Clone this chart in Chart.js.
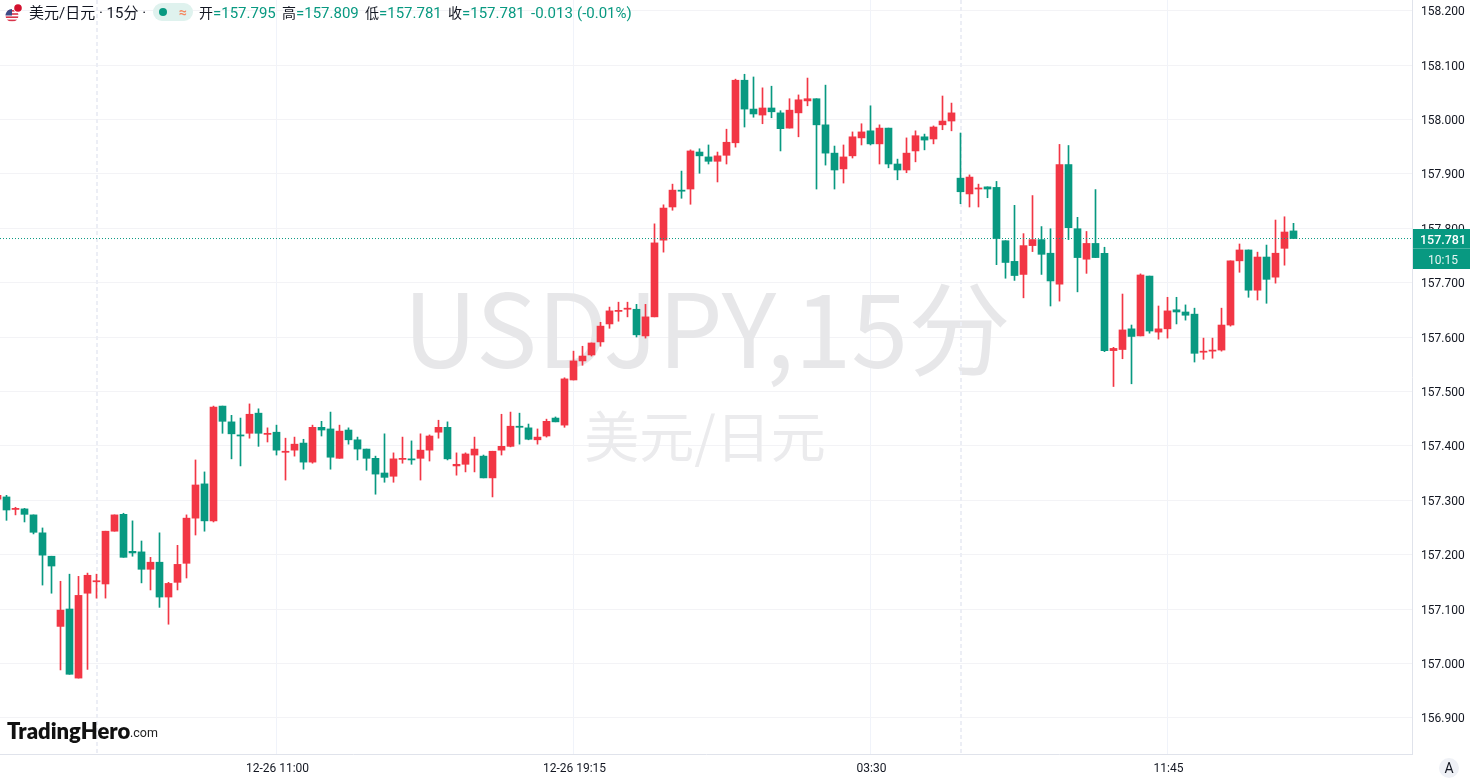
<!DOCTYPE html>
<html><head><meta charset="utf-8">
<style>html,body{margin:0;padding:0;background:#fff;overflow:hidden}canvas{display:block}</style>
<script src="https://cdn.jsdelivr.net/npm/chart.js@4"></script>
</head><body><canvas id="c" width="1470" height="782"></canvas>
<script>
const opens=[157.302,157.306,157.283,157.284,157.273,157.240,157.197,157.068,157.100,156.973,157.129,157.150,157.146,157.243,157.274,157.206,157.205,157.173,157.186,157.122,157.149,157.184,157.267,157.330,157.262,157.473,157.444,157.420,157.423,157.460,157.421,157.425,157.388,157.392,157.405,157.370,157.434,157.431,157.377,157.429,157.411,157.394,157.377,157.350,157.344,157.375,157.376,157.377,157.392,157.425,157.434,157.363,157.366,157.383,157.381,157.341,157.392,157.399,157.436,157.433,157.411,157.418,157.451,157.438,157.521,157.556,157.567,157.591,157.624,157.647,157.651,157.651,157.602,157.637,157.778,157.839,157.870,157.872,157.940,157.931,157.923,157.934,157.957,158.072,158.019,158.008,158.021,158.012,157.984,158.012,158.034,158.038,157.990,157.938,157.909,157.933,157.966,157.979,157.955,157.984,157.918,157.907,157.942,157.968,157.964,157.990,157.997,157.892,157.863,157.872,157.876,157.875,157.777,157.739,157.715,157.768,157.779,157.754,157.697,157.917,157.799,157.743,157.772,157.754,157.575,157.577,157.615,157.602,157.712,157.609,157.615,157.650,157.646,157.642,157.572,157.574,157.576,157.622,157.740,157.760,157.686,157.747,157.710,157.763,157.795];
const highs=[157.315,157.309,157.287,157.285,157.273,157.249,157.197,157.151,157.164,157.160,157.166,157.164,157.243,157.273,157.276,157.262,157.225,157.195,157.240,157.149,157.217,157.273,157.374,157.352,157.473,157.473,157.456,157.451,157.477,157.468,157.433,157.438,157.414,157.416,157.412,157.438,157.445,157.462,157.438,157.433,157.416,157.394,157.381,157.422,157.387,157.416,157.409,157.422,157.420,157.447,157.444,157.387,157.387,157.416,157.383,157.390,157.458,157.462,157.460,157.440,157.431,157.449,157.453,157.525,157.574,157.583,157.589,157.627,157.655,157.664,157.664,157.660,157.660,157.808,157.843,157.881,157.905,157.944,157.946,157.953,157.940,157.982,158.074,158.083,158.078,158.058,158.061,158.016,158.038,158.045,158.076,158.038,158.063,157.951,157.953,157.977,157.992,158.025,157.990,157.984,157.927,157.966,157.979,157.973,157.988,158.043,158.030,157.975,157.898,157.881,157.876,157.886,157.777,157.842,157.790,157.860,157.803,157.799,157.954,157.952,157.820,157.794,157.871,157.765,157.581,157.679,157.622,157.716,157.712,157.657,157.673,157.673,157.659,157.653,157.598,157.598,157.653,157.740,157.771,157.760,157.756,157.769,157.815,157.821,157.809];
const lows=[157.295,157.263,157.273,157.260,157.238,157.144,157.129,156.988,156.980,156.973,156.989,157.120,157.120,157.243,157.195,157.197,157.148,157.135,157.103,157.072,157.135,157.157,157.236,157.243,157.260,157.423,157.376,157.363,157.414,157.399,157.407,157.383,157.337,157.381,157.357,157.368,157.418,157.357,157.377,157.403,157.374,157.355,157.311,157.333,157.333,157.368,157.366,157.337,157.372,157.414,157.374,157.346,157.352,157.352,157.341,157.306,157.383,157.398,157.403,157.411,157.403,157.416,157.444,157.434,157.521,157.548,157.565,157.583,157.616,157.629,157.637,157.600,157.598,157.637,157.756,157.833,157.855,157.844,157.901,157.918,157.885,157.918,157.949,157.986,158.004,157.992,158.003,157.942,157.984,157.968,158.025,157.872,157.916,157.872,157.883,157.929,157.953,157.953,157.918,157.911,157.889,157.902,157.922,157.944,157.955,157.981,157.979,157.845,157.839,157.839,157.856,157.733,157.708,157.704,157.672,157.757,157.715,157.657,157.666,157.779,157.683,157.717,157.746,157.573,157.509,157.560,157.514,157.602,157.607,157.596,157.598,157.624,157.631,157.554,157.559,157.561,157.574,157.620,157.719,157.673,157.668,157.662,157.699,157.732,157.781];
const closes=[157.309,157.282,157.285,157.274,157.241,157.199,157.179,157.098,156.980,157.125,157.162,157.152,157.243,157.273,157.195,157.203,157.173,157.186,157.122,157.147,157.182,157.267,157.328,157.262,157.471,157.445,157.422,157.418,157.458,157.423,157.423,157.392,157.390,157.403,157.370,157.434,157.429,157.379,157.427,157.411,157.394,157.377,157.348,157.342,157.376,157.377,157.374,157.392,157.418,157.434,157.376,157.366,157.385,157.394,157.341,157.390,157.399,157.436,157.434,157.412,157.416,157.445,157.444,157.523,157.556,157.565,157.589,157.620,157.648,157.649,157.653,157.604,157.637,157.773,157.837,157.870,157.868,157.942,157.933,157.923,157.933,157.958,158.072,158.019,158.010,158.021,158.014,157.983,158.017,158.036,158.038,157.990,157.938,157.907,157.931,157.968,157.977,157.955,157.984,157.918,157.907,157.938,157.970,157.962,157.986,157.997,158.012,157.867,157.894,157.874,157.872,157.781,157.737,157.713,157.768,157.779,157.752,157.703,157.917,157.801,157.746,157.772,157.746,157.575,157.579,157.613,157.601,157.714,157.611,157.615,157.648,157.646,157.640,157.570,157.574,157.576,157.622,157.740,157.760,157.686,157.747,157.706,157.754,157.793,157.781];
const priceTicks=[156.9,157.0,157.1,157.2,157.3,157.4,157.5,157.6,157.7,157.8,157.9,158.0,158.1,158.2];
const timeTickSlots=[31,64,97,130];
const timeTickLabels=['12-26 11:00','12-26 19:15','03:30','11:45'];
const sessionBreakSlots=[11,107];
const UP='#f23645',DOWN='#089981';
const lastPrice=closes[closes.length-1];
const slots=opens.map((_,k)=>k);
const SANS='Roboto, "Noto Sans CJK SC", sans-serif';

function overlayText(g,s,x,y,font,color,align){g.font=font;g.fillStyle=color;g.textAlign=align||'left';g.textBaseline='alphabetic';g.fillText(s,x,y);}

const under={id:'under',beforeDatasetsDraw(ch){
  const g=ch.ctx,xs=ch.scales.x,a=ch.chartArea;g.save();
  overlayText(g,'USDJPY,15分',707,368,'102.5px "Noto Sans CJK SC"','#e7e7e9','center');
  overlayText(g,'美元/日元',705,457,'55px "Noto Sans CJK SC"','#ebebed','center');
  g.strokeStyle='#eceef5';g.lineWidth=2;g.setLineDash([4,3]);
  sessionBreakSlots.forEach(s=>{const px=Math.round(xs.getPixelForValue(s));g.beginPath();g.moveTo(px,a.top);g.lineTo(px,a.bottom);g.stroke();});
  g.restore();
}};
const over={id:'over',afterDraw(ch){
  const g=ch.ctx;g.save();
  g.save();g.beginPath();g.arc(12,15.5,6.5,0,Math.PI*2);g.clip();g.fillStyle='#fff';g.fillRect(5,9,14,13);
  g.fillStyle='#d8344a';for(let r=0;r<4;r++)g.fillRect(5,10+r*3.2,14,1.6);
  g.fillStyle='#3c4a86';g.fillRect(5,9,7,6.5);g.restore();
  g.beginPath();g.arc(18,8,4.8,0,Math.PI*2);g.fillStyle='#fff';g.fill();
  g.beginPath();g.arc(18,8,3.8,0,Math.PI*2);g.fillStyle='#d3112f';g.fill();
  const HF='15px '+SANS,DK='#131722';
  overlayText(g,'美元/日元 · 15分 ·',29,18,HF,DK);
  g.fillStyle='#dff2ee';g.beginPath();g.roundRect(153,3,40,18,9);g.fill();
  g.fillStyle=DOWN;g.beginPath();g.arc(163,12,4,0,Math.PI*2);g.fill();
  overlayText(g,'≈',183,17,'bold 14px '+SANS,'#f5875f','center');
  [['开',199,'=157.795',213],['高',282,'=157.809',296],['低',365,'=157.781',379],['收',448,'=157.781',462]].forEach(r=>{
    overlayText(g,r[0],r[1],18,'14px "Noto Sans CJK SC"',DK);
    overlayText(g,r[2],r[3],18,HF,DOWN);
  });
  overlayText(g,'-0.013',531,18,HF,DOWN);
  overlayText(g,'(-0.01%)',577,18,HF,DOWN);
  g.fillStyle=DOWN;g.fillRect(1413,229,57,40);
  g.fillStyle='rgba(255,255,255,0.25)';g.fillRect(1413,248,57,1);
  overlayText(g,'157.781',1443,244,'500 12.5px '+SANS,'#fff','center');
  overlayText(g,'10:15',1443,264,'12px '+SANS,'#e6f5f2','center');
  overlayText(g,'TradingHero',7,739,'800 22px Lato, Inter, sans-serif','#111');
  overlayText(g,'.com',130,737,'12.5px '+SANS,'#222');
  g.fillStyle='#eff1f6';g.beginPath();g.arc(1449,768,10,0,Math.PI*2);g.fill();
  overlayText(g,'A',1449,773,'14px '+SANS,DK,'center');
  g.restore();
}};

new Chart(document.getElementById('c'),{
  type:'bar',
  data:{datasets:[
    {type:'line',label:'last',order:-1,data:[{x:0,y:lastPrice},{x:158,y:lastPrice}],borderColor:DOWN,borderWidth:1,borderDash:[1,2],borderDashOffset:0.5,pointRadius:0,fill:false},
    {label:'body',order:1,data:slots.map(k=>({x:k,y:[opens[k],closes[k]]})),barThickness:7,minBarLength:1,
      backgroundColor:c=>closes[c.dataIndex]>=opens[c.dataIndex]?UP:DOWN},
    {label:'wick',order:2,data:slots.map(k=>({x:k,y:[lows[k],highs[k]]})),barThickness:1,
      backgroundColor:c=>closes[c.dataIndex]>=opens[c.dataIndex]?UP:DOWN}
  ]},
  plugins:[under,over],
  options:{
    responsive:false,animation:false,devicePixelRatio:1,
    layout:{padding:0},
    grouped:false,
    events:[],
    plugins:{legend:{display:false},tooltip:{enabled:false},title:{display:false}},
    scales:{
      x:{type:'linear',offset:false,min:2.5/9,max:(1412+2.5)/9,
        afterBuildTicks(s){s.ticks=timeTickSlots.map(v=>({value:v}));},
        afterFit(s){s.height=28;s.paddingLeft=0;s.paddingRight=0;},
        grid:{offset:false,color:'#f0f3fa',drawTicks:false,tickLength:0},
        border:{color:'#e0e3eb'},
        ticks:{autoSkip:false,maxRotation:0,minRotation:0,padding:8,labelOffset:1,color:'#131722',font:{family:'Roboto',size:12},
          callback(v){const i=timeTickSlots.indexOf(v);return i<0?'':timeTickLabels[i];}}
      },
      y:{type:'linear',position:'right',min:157.5-362.6/544,max:157.5+391.4/544,
        afterBuildTicks(s){s.ticks=priceTicks.map(v=>({value:v}));},
        afterFit(s){s.width=58;s.paddingTop=0;s.paddingBottom=0;},
        grid:{color:'#f3f3f6',drawTicks:false,tickLength:0},
        border:{color:'#e0e3eb'},
        ticks:{padding:9,labelOffset:1.5,color:'#131722',font:{family:'Roboto',size:12},autoSkip:false,
          callback(v){return v.toFixed(3);}}
      }
    }
  }
});
</script></body></html>
